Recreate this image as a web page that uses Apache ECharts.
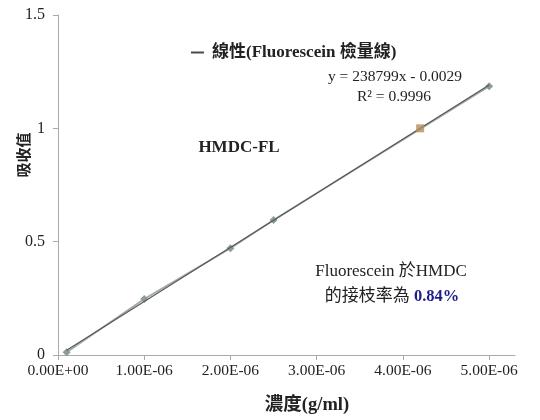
<!DOCTYPE html>
<html>
<head>
<meta charset="utf-8">
<script src="https://cdn.jsdelivr.net/npm/echarts@6/dist/echarts.min.js"></script>
<style>
  html, body { margin: 0; padding: 0; background: #fff; }
  #chart { width: 540px; height: 420px; }
</style>
</head>
<body>
<div id="chart"></div>
<script>
// Standard solutions: concentration (g/ml) and measured absorbance
const concentrations = [1e-7, 1e-6, 2e-6, 2.5e-6, 5e-6];
const absorbances = [0.012, 0.247, 0.471, 0.596, 1.186];

// Linear calibration fit
const slope = 238799;
const intercept = -0.0029;
const fitRange = [1e-7, 5e-6];

// HMDC-FL sample, read back on the calibration line
const sampleConc = [4.2e-6];
const sampleAbs = [1.0];

const xTicks = [0, 1e-6, 2e-6, 3e-6, 4e-6, 5e-6];
const yTicks = [0, 0.5, 1, 1.5];

const legendName = '線性(Fluorescein 檢量線)';
const FONT = '"Liberation Serif", "Times New Roman", "Noto Sans CJK TC", serif';

function sciLabel(v) {
  if (v === 0) return '0.00E+00';
  const exp = Math.floor(Math.log10(Math.abs(v)) + 1e-9);
  const mant = v / Math.pow(10, exp);
  const sign = exp < 0 ? '-' : '+';
  const e = String(Math.abs(exp)).padStart(2, '0');
  return mant.toFixed(2) + 'E' + sign + e;
}

const measured = concentrations.map((c, i) => [c, absorbances[i]]);
const fitLine = fitRange.map(x => [x, slope * x + intercept]);
const sample = sampleConc.map((c, i) => [c, sampleAbs[i]]);

const chart = echarts.init(document.getElementById('chart'), null, { renderer: 'canvas' });

chart.setOption({
  animation: false,
  backgroundColor: '#fff',
  textStyle: { fontFamily: FONT },
  grid: { left: 58, right: 25, top: 15, bottom: 65 },
  legend: {
    data: [legendName],
    left: 186,
    top: 39,
    icon: 'rect',
    itemWidth: 13,
    itemHeight: 2,
    itemGap: 6,
    textStyle: { fontFamily: FONT, fontSize: 17, fontWeight: 'bold', color: '#222', padding: [0, 0, 0, 3] }
  },
  xAxis: {
    type: 'value',
    min: 0,
    max: 5.3e-6,
    axisLine: { lineStyle: { color: '#aaa', width: 1 } },
    axisTick: { show: true, length: 5, lineStyle: { color: '#aaa' }, customValues: xTicks },
    axisLabel: {
      customValues: xTicks,
      formatter: v => sciLabel(v),
      fontFamily: FONT, fontSize: 15.5, color: '#222', margin: 8
    },
    splitLine: { show: false }
  },
  yAxis: {
    type: 'value',
    min: 0,
    max: 1.5,
    interval: 0.5,
    axisLine: { show: true, lineStyle: { color: '#aaa', width: 1 } },
    axisTick: { show: true, length: 5, lineStyle: { color: '#aaa' } },
    axisLabel: {
      formatter: v => String(v),
      fontFamily: FONT, fontSize: 16, color: '#222', margin: 13
    },
    splitLine: { show: false }
  },
  series: [
    {
      name: '標準溶液',
      type: 'line',
      data: measured,
      symbol: 'diamond',
      symbolSize: 8,
      itemStyle: { color: '#8d9c9a' },
      lineStyle: { color: '#a3a9a8', width: 1.8 },
      z: 2
    },
    {
      name: legendName,
      type: 'line',
      data: fitLine,
      showSymbol: false,
      symbol: 'none',
      itemStyle: { color: '#4a4a4a' },
      lineStyle: { color: '#555', width: 1.1 },
      z: 3
    },
    {
      name: 'HMDC-FL',
      type: 'scatter',
      data: sample,
      symbol: 'rect',
      symbolSize: 8,
      itemStyle: { color: '#b58d5c' },
      z: 4
    }
  ],
  graphic: [
    {
      type: 'text', x: 395, y: 77,
      style: { text: 'y = 238799x - 0.0029', font: '15.5px ' + FONT, fill: '#222', textAlign: 'center', textVerticalAlign: 'middle' }
    },
    {
      type: 'text', x: 394, y: 97,
      style: { text: 'R² = 0.9996', font: '15.5px ' + FONT, fill: '#222', textAlign: 'center', textVerticalAlign: 'middle' }
    },
    {
      type: 'text', x: 239, y: 148,
      style: { text: 'HMDC-FL', font: 'bold 17px ' + FONT, fill: '#222', textAlign: 'center', textVerticalAlign: 'middle' }
    },
    {
      type: 'text', x: 391, y: 272,
      style: { text: 'Fluorescein 於HMDC', font: '17px ' + FONT, fill: '#222', textAlign: 'center', textVerticalAlign: 'middle' }
    },
    {
      type: 'text', x: 392, y: 297,
      style: {
        text: '{a|的接枝率為 }{b|0.84%}',
        textAlign: 'center', textVerticalAlign: 'middle',
        rich: {
          a: { fontFamily: FONT, fontSize: 17, fill: '#222' },
          b: { fontFamily: FONT, fontSize: 16.5, fontWeight: 'bold', fill: '#1c1c8c' }
        }
      }
    },
    {
      type: 'text', x: 25, y: 155, rotation: Math.PI / 2,
      style: { text: '吸收值', font: 'bold 15px ' + FONT, fill: '#222', textAlign: 'center', textVerticalAlign: 'middle' }
    },
    {
      type: 'text', x: 307, y: 405,
      style: { text: '濃度(g/ml)', font: 'bold 18.5px ' + FONT, fill: '#222', textAlign: 'center', textVerticalAlign: 'middle' }
    }
  ]
});
</script>
</body>
</html>
